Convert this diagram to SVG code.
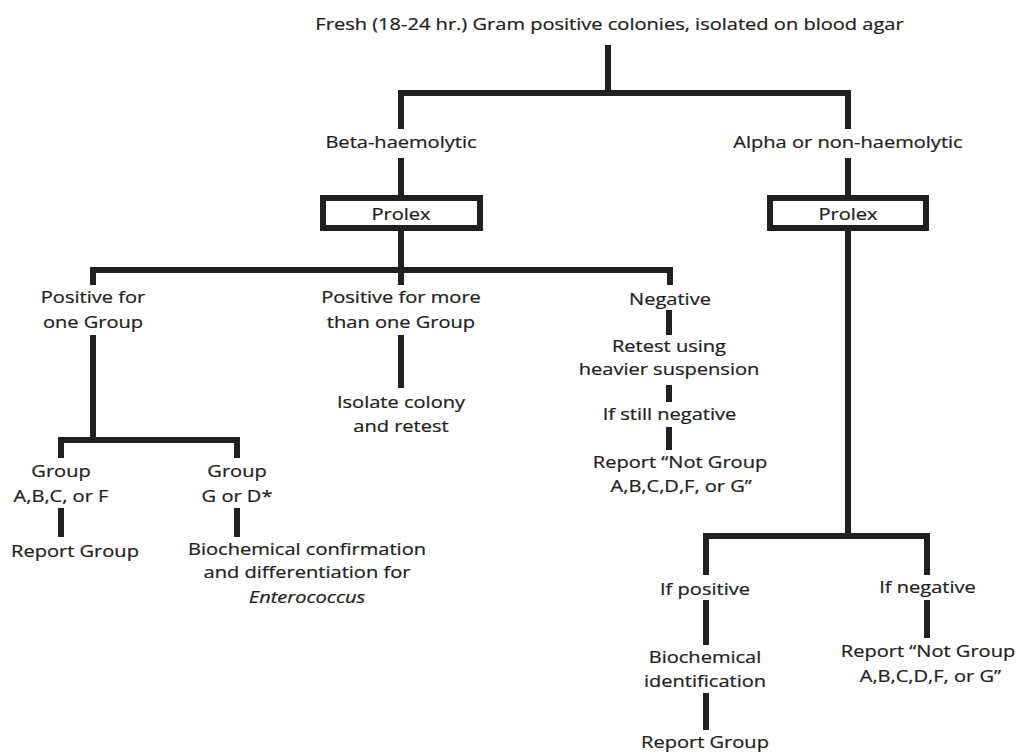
<svg xmlns="http://www.w3.org/2000/svg" width="1016" height="752" viewBox="0 0 1016 752">
<style>
.t{font-family:"Open Sans","Liberation Sans",sans-serif;font-size:17px;fill:#231f20;stroke:#231f20;stroke-width:0.25px;text-anchor:middle}
.i{font-style:italic}
.c{fill:none;stroke:#231f20;stroke-width:6;stroke-linejoin:miter;stroke-linecap:butt}
.b{fill:#ffffff;stroke:#231f20;stroke-width:6}
</style>
<rect width="1016" height="752" fill="#ffffff"/>
<g id="connectors" class="c">
<path d="M608 45V93"/>
<path d="M401 129V93H848V129"/>
<path d="M401 158V198"/>
<path d="M848 158V198"/>
<path d="M93 285V270H670V285"/>
<path d="M401 228V285"/>
<path d="M93 335V440"/>
<path d="M61 458V440H237V458"/>
<path d="M61 508V537"/>
<path d="M237 508V537"/>
<path d="M401 335V388"/>
<path d="M669 310V335"/>
<path d="M669 385V402"/>
<path d="M669 427V450"/>
<path d="M848 228V536"/>
<path d="M706 575V536H927V575"/>
<path d="M706 600V645"/>
<path d="M706 693V730"/>
<path d="M927 600V638"/>
</g>
<g id="n-title"><text class="t" transform="translate(609.5,30) scale(1.18,1)">Fresh (18-24 hr.) Gram positive colonies, isolated on blood agar</text></g>
<g id="n-beta"><text class="t" transform="translate(401,148) scale(1.18,1)">Beta-haemolytic</text></g>
<g id="n-alpha"><text class="t" transform="translate(848,148) scale(1.18,1)">Alpha or non-haemolytic</text></g>
<g id="n-prolex1"><rect class="b" x="323" y="198" width="157" height="30"/><text class="t" transform="translate(401,220) scale(1.18,1)">Prolex</text></g>
<g id="n-prolex2"><rect class="b" x="770" y="198" width="156" height="30"/><text class="t" transform="translate(848,220) scale(1.18,1)">Prolex</text></g>
<g id="n-pos1"><text class="t" transform="translate(93,303) scale(1.18,1)"><tspan x="0">Positive for</tspan><tspan x="0" dy="25">one Group</tspan></text></g>
<g id="n-posmore"><text class="t" transform="translate(401,303) scale(1.18,1)"><tspan x="0">Positive for more</tspan><tspan x="0" dy="25">than one Group</tspan></text></g>
<g id="n-neg"><text class="t" transform="translate(670,305) scale(1.18,1)">Negative</text></g>
<g id="n-isolate"><text class="t" transform="translate(401,408) scale(1.18,1)"><tspan x="0">Isolate colony</tspan><tspan x="0" dy="24">and retest</tspan></text></g>
<g id="n-retest"><text class="t" transform="translate(669,352) scale(1.18,1)"><tspan x="0">Retest using</tspan><tspan x="0" dy="23">heavier suspension</tspan></text></g>
<g id="n-still"><text class="t" transform="translate(669.5,420) scale(1.18,1)">If still negative</text></g>
<g id="n-notgroup1"><text class="t" transform="translate(680,468) scale(1.18,1)"><tspan x="0">Report “Not Group</tspan><tspan x="1" dy="24">A,B,C,D,F, or G”</tspan></text></g>
<g id="n-gabcf"><text class="t" transform="translate(61,477) scale(1.18,1)"><tspan x="0">Group</tspan><tspan x="0" dy="25">A,B,C, or F</tspan></text></g>
<g id="n-ggd"><text class="t" transform="translate(237,477) scale(1.18,1)"><tspan x="0">Group</tspan><tspan x="0" dy="25">G or D*</tspan></text></g>
<g id="n-report1"><text class="t" transform="translate(75,557) scale(1.18,1)">Report Group</text></g>
<g id="n-biochem1"><text class="t" transform="translate(307,555) scale(1.18,1)"><tspan x="0">Biochemical confirmation</tspan><tspan x="0" dy="23">and differentiation for</tspan><tspan x="0" dy="25" class="i">Enterococcus</tspan></text></g>
<g id="n-ifpos"><text class="t" transform="translate(705,595) scale(1.18,1)">If positive</text></g>
<g id="n-ifneg"><text class="t" transform="translate(927.5,593) scale(1.18,1)">If negative</text></g>
<g id="n-biochem2"><text class="t" transform="translate(705,663) scale(1.18,1)"><tspan x="0">Biochemical</tspan><tspan x="0" dy="24">identification</tspan></text></g>
<g id="n-report2"><text class="t" transform="translate(705,748) scale(1.18,1)">Report Group</text></g>
<g id="n-notgroup2"><text class="t" transform="translate(928,657) scale(1.18,1)"><tspan x="0">Report “Not Group</tspan><tspan x="2" dy="25">A,B,C,D,F, or G”</tspan></text></g>
</svg>
